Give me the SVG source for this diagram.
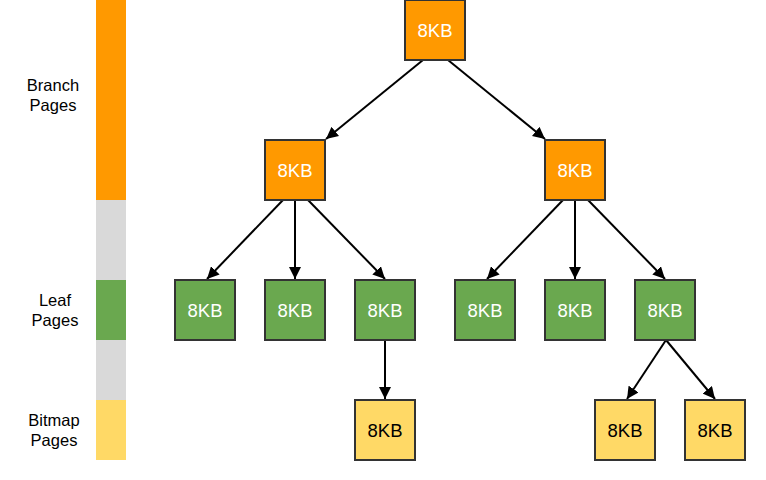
<svg xmlns="http://www.w3.org/2000/svg" width="766" height="480" viewBox="0 0 766 480">
<defs>
<marker id="ah" viewBox="0 0 10 10" refX="10" refY="5" markerWidth="6" markerHeight="6" orient="auto" markerUnits="strokeWidth">
<path d="M0,0 L10,5 L0,10 Z" fill="#000"/>
</marker>
<style>
.n rect{stroke:#333;stroke-width:2}
.br rect{fill:#ff9900}
.lf rect{fill:#6aa84f}
.bm rect{fill:#ffd966}
.n text{font-family:"Liberation Sans",Arial,sans-serif;font-size:18.5px;text-anchor:middle;fill:#fff}
.bm text{fill:#000}
.lbl{font-family:"Liberation Sans",Arial,sans-serif;font-size:16.5px;text-anchor:middle;fill:#000}
#edges line{stroke:#000;stroke-width:2;marker-end:url(#ah)}
</style>
</defs>
<rect width="766" height="480" fill="#fff"/>
<g id="legend">
<rect x="96" y="0" width="30" height="200" fill="#ff9900"/>
<rect x="96" y="200" width="30" height="80" fill="#d9d9d9"/>
<rect x="96" y="280" width="30" height="60" fill="#6aa84f"/>
<rect x="96" y="340" width="30" height="60" fill="#d9d9d9"/>
<rect x="96" y="400" width="30" height="60" fill="#ffd966"/>
<text class="lbl" x="53" y="91">Branch</text>
<text class="lbl" x="53" y="111">Pages</text>
<text class="lbl" x="55" y="306">Leaf</text>
<text class="lbl" x="55" y="326">Pages</text>
<text class="lbl" x="54" y="426">Bitmap</text>
<text class="lbl" x="54" y="446">Pages</text>
</g>
<g id="edges">
<line x1="423" y1="60" x2="326" y2="139"/>
<line x1="448" y1="60" x2="545" y2="139"/>
<line x1="283" y1="200" x2="207" y2="279"/>
<line x1="295" y1="200" x2="295" y2="279"/>
<line x1="308" y1="200" x2="385" y2="279"/>
<line x1="563" y1="200" x2="487" y2="279"/>
<line x1="575" y1="200" x2="575" y2="279"/>
<line x1="588" y1="200" x2="665" y2="279"/>
<line x1="385" y1="340" x2="385" y2="399"/>
<line x1="666" y1="340" x2="627" y2="399"/>
<line x1="666" y1="340" x2="715" y2="399"/>
</g>
<g id="root" class="n br"><rect x="405" y="0" width="60" height="60"/><text x="435" y="36.5">8KB</text></g>
<g id="branchL" class="n br"><rect x="265" y="140" width="60" height="60"/><text x="295" y="176.5">8KB</text></g>
<g id="branchR" class="n br"><rect x="545" y="140" width="60" height="60"/><text x="575" y="176.5">8KB</text></g>
<g id="leaf1" class="n lf"><rect x="175" y="280" width="60" height="60"/><text x="205" y="316.5">8KB</text></g>
<g id="leaf2" class="n lf"><rect x="265" y="280" width="60" height="60"/><text x="295" y="316.5">8KB</text></g>
<g id="leaf3" class="n lf"><rect x="355" y="280" width="60" height="60"/><text x="385" y="316.5">8KB</text></g>
<g id="leaf4" class="n lf"><rect x="455" y="280" width="60" height="60"/><text x="485" y="316.5">8KB</text></g>
<g id="leaf5" class="n lf"><rect x="545" y="280" width="60" height="60"/><text x="575" y="316.5">8KB</text></g>
<g id="leaf6" class="n lf"><rect x="635" y="280" width="60" height="60"/><text x="665" y="316.5">8KB</text></g>
<g id="bitmap1" class="n bm"><rect x="355" y="400" width="60" height="60"/><text x="385" y="436.5">8KB</text></g>
<g id="bitmap2" class="n bm"><rect x="595" y="400" width="60" height="60"/><text x="625" y="436.5">8KB</text></g>
<g id="bitmap3" class="n bm"><rect x="685" y="400" width="60" height="60"/><text x="715" y="436.5">8KB</text></g>
</svg>
